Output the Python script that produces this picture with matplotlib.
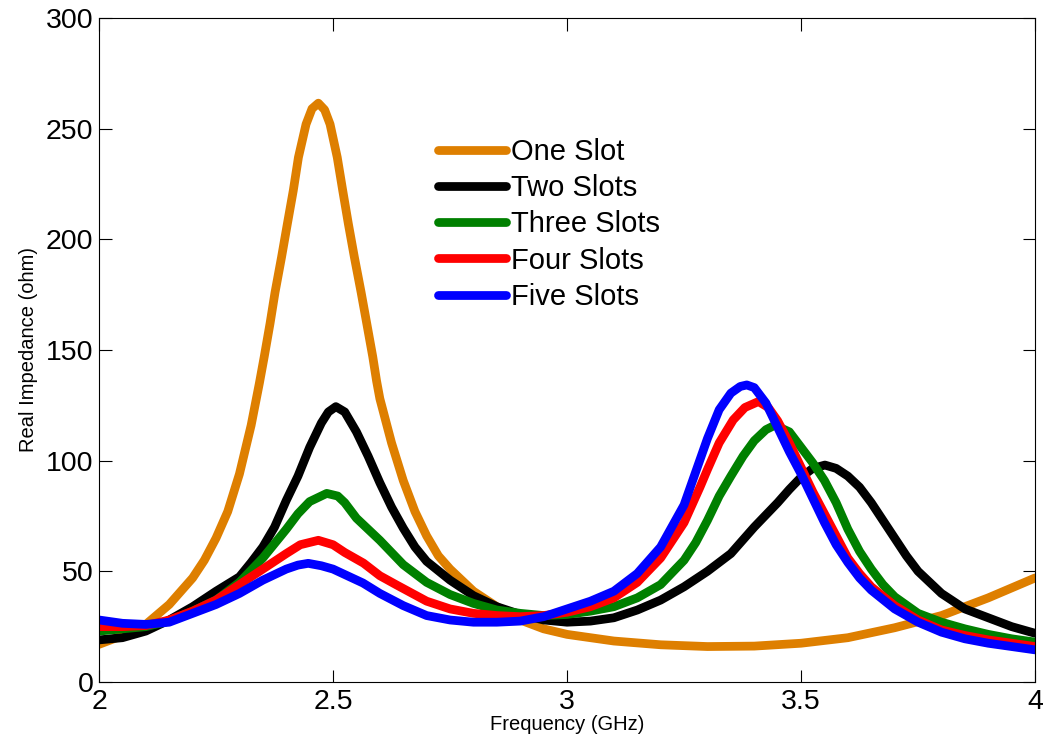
"""Real impedance vs frequency for slot counts."""
import matplotlib
matplotlib.use("Agg")
import matplotlib.pyplot as plt

# values (GHz, ohm)
f_one = [2.0, 2.05, 2.1, 2.15, 2.2, 2.225, 2.25, 2.275, 2.3, 2.325, 2.3426, 2.353, 2.3654,
         2.376, 2.39, 2.4024, 2.415, 2.426, 2.4423, 2.455, 2.4686, 2.482, 2.4936, 2.509,
         2.5207, 2.5327, 2.5455, 2.56, 2.572, 2.5848, 2.593, 2.6, 2.625, 2.65, 2.675, 2.7,
         2.725, 2.75, 2.8, 2.85, 2.9, 2.95, 3.0, 3.1, 3.2, 3.3, 3.4, 3.5, 3.6, 3.7, 3.8, 3.9, 4.0]
one_slot = [17, 21, 26, 35, 47, 55, 65, 77, 94, 116, 135, 147, 162,
            176, 192, 207, 222, 237, 252, 259, 261.5, 258.5, 252, 237,
            222, 207, 192, 176, 162, 147, 136, 128, 108, 91, 77, 66,
            57, 51, 41, 34, 28, 24, 21.5, 18.5, 16.8, 16, 16.2, 17.5, 20, 24.5, 30, 38, 47]

f_two = [2.0, 2.05, 2.1, 2.15, 2.2, 2.25, 2.3, 2.325, 2.35, 2.375, 2.4, 2.425, 2.45, 2.475,
         2.49, 2.506, 2.525, 2.55, 2.575, 2.6, 2.625, 2.65, 2.675, 2.7, 2.75, 2.8, 2.85,
         2.9, 2.95, 3.0, 3.05, 3.1, 3.15, 3.2, 3.25, 3.3, 3.35, 3.4, 3.45, 3.475, 3.5,
         3.525, 3.551, 3.575, 3.6, 3.625, 3.65, 3.675, 3.7, 3.725, 3.75, 3.8, 3.85, 3.9,
         3.95, 4.0]
two_slots = [19, 20, 23, 28, 34, 41, 47.5, 54, 61, 70, 82, 93, 106, 117,
             122, 124.4, 122, 113, 102, 90, 79, 69.5, 61, 54.5, 46, 39, 34,
             30.5, 28, 27, 27.5, 29, 32.5, 37, 43, 50, 58, 70, 81, 87, 92.5,
             96.5, 98, 96.5, 93, 88, 81, 73, 65, 57, 50, 40, 33, 29,
             25, 22]

f_three = [2.0, 2.05, 2.1, 2.15, 2.2, 2.25, 2.3, 2.35, 2.4, 2.425, 2.45, 2.4865, 2.51, 2.525,
           2.55, 2.6, 2.65, 2.7, 2.75, 2.8, 2.85, 2.9, 2.95, 3.0, 3.05, 3.1, 3.15, 3.2,
           3.25, 3.275, 3.3, 3.325, 3.35, 3.376, 3.4, 3.425, 3.444, 3.475, 3.5, 3.525, 3.55,
           3.575, 3.6, 3.625, 3.65, 3.675, 3.7, 3.75, 3.8, 3.85, 3.9, 3.95, 4.0]
three_slots = [23, 24, 25, 27.5, 32, 37, 45, 56, 69, 76, 81.5, 85.2, 84, 81,
               74, 64, 53, 45, 39.5, 35.5, 32.5, 31, 30, 30.5, 32, 34, 38, 44,
               55, 63, 73, 84, 93, 102, 109, 114, 116, 113, 106, 99, 91,
               81, 69, 59, 51, 44, 38.5, 31, 27, 24, 21.5, 19.5, 18]

f_four = [2.0, 2.05, 2.1, 2.15, 2.2, 2.25, 2.3, 2.35, 2.4, 2.43, 2.4686, 2.5, 2.525, 2.565,
          2.6, 2.636, 2.7, 2.75, 2.8, 2.85, 2.9, 2.95, 3.0, 3.05, 3.1, 3.15, 3.2, 3.25,
          3.284, 3.3, 3.325, 3.355, 3.38, 3.409, 3.43, 3.45, 3.475, 3.5, 3.525, 3.55,
          3.575, 3.6, 3.625, 3.65, 3.7, 3.75, 3.8, 3.85, 3.9, 3.95, 4.0]
four_slots = [25, 25, 25.5, 28, 32, 37, 44, 51, 58, 62, 64, 62, 58.5, 53.7,
              48, 43.8, 36.5, 33, 31, 30, 29.5, 30, 31.5, 34, 38, 45, 56, 72,
              88, 96, 108, 118.4, 124, 126.7, 124, 118, 108, 97, 86, 76,
              66, 56, 49, 43, 34.5, 28, 23.5, 21, 19, 17.5, 16]

f_five = [2.0, 2.05, 2.1, 2.15, 2.2, 2.25, 2.3, 2.35, 2.4, 2.425, 2.447, 2.475, 2.5, 2.564,
          2.6, 2.65, 2.7, 2.75, 2.8, 2.85, 2.9, 2.95, 3.0, 3.05, 3.1, 3.15, 3.2, 3.25,
          3.275, 3.3, 3.325, 3.35, 3.37, 3.384, 3.4, 3.425, 3.45, 3.475, 3.5, 3.525,
          3.55, 3.575, 3.6, 3.625, 3.65, 3.7, 3.75, 3.8, 3.85, 3.9, 3.95, 4.0]
five_slots = [28, 26.5, 26, 27, 31, 35, 40, 46, 51, 52.8, 53.6, 52.5, 51, 44.7,
              40, 34.5, 30, 28, 27, 27, 27.5, 29.5, 33, 36.5, 41, 49, 61, 80,
              95, 110, 123, 130.5, 133.5, 134.2, 133, 126, 115, 104, 94, 83,
              72, 62, 54, 47, 41.5, 33, 27, 22.5, 19.5, 17.5, 16, 14.5]

labels = ["One Slot", "Two Slots", "Three Slots", "Four Slots", "Five Slots"]
colors = ["#DE7F00", "#000000", "#008000", "#FF0000", "#0000FF"]

plt.rcParams["font.family"] = ["Liberation Sans", "DejaVu Sans"]

fig = plt.figure(figsize=(10.47, 7.49), dpi=100)
ax = fig.add_axes([0.0946, 0.0895, 0.894, 0.8865])

series = [(f_one, one_slot), (f_two, two_slots), (f_three, three_slots),
          (f_four, four_slots), (f_five, five_slots)]
for (f, v), lab, c in zip(series, labels, colors):
    ax.plot(f, v, color=c, lw=6.3, label=lab, solid_capstyle="round", solid_joinstyle="round")

ax.set_xlim(2, 4)
ax.set_ylim(0, 300)
ax.set_xticks([2, 2.5, 3, 3.5, 4])
ax.set_xticklabels(["2", "2.5", "3", "3.5", "4"])
ax.set_yticks(range(0, 301, 50))
ax.tick_params(direction="in", length=9, width=0.8, top=True, right=True,
               labelsize=20.5)
ax.tick_params(axis="x", pad=5)
ax.tick_params(axis="y", pad=4)
for s in ax.spines.values():
    s.set_linewidth(0.8)

ax.set_xlabel("Frequency (GHz)", fontsize=14.5, labelpad=0)
ax.set_ylabel("Real Impedance (ohm)", fontsize=14.5, labelpad=6)

leg = ax.legend(loc="upper left", bbox_to_anchor=(0.362, 0.819), frameon=False,
                fontsize=21, handlelength=2.33, handletextpad=0.17,
                labelspacing=0.28, borderaxespad=0, borderpad=0)

fig.savefig("out.png", dpi=100)
